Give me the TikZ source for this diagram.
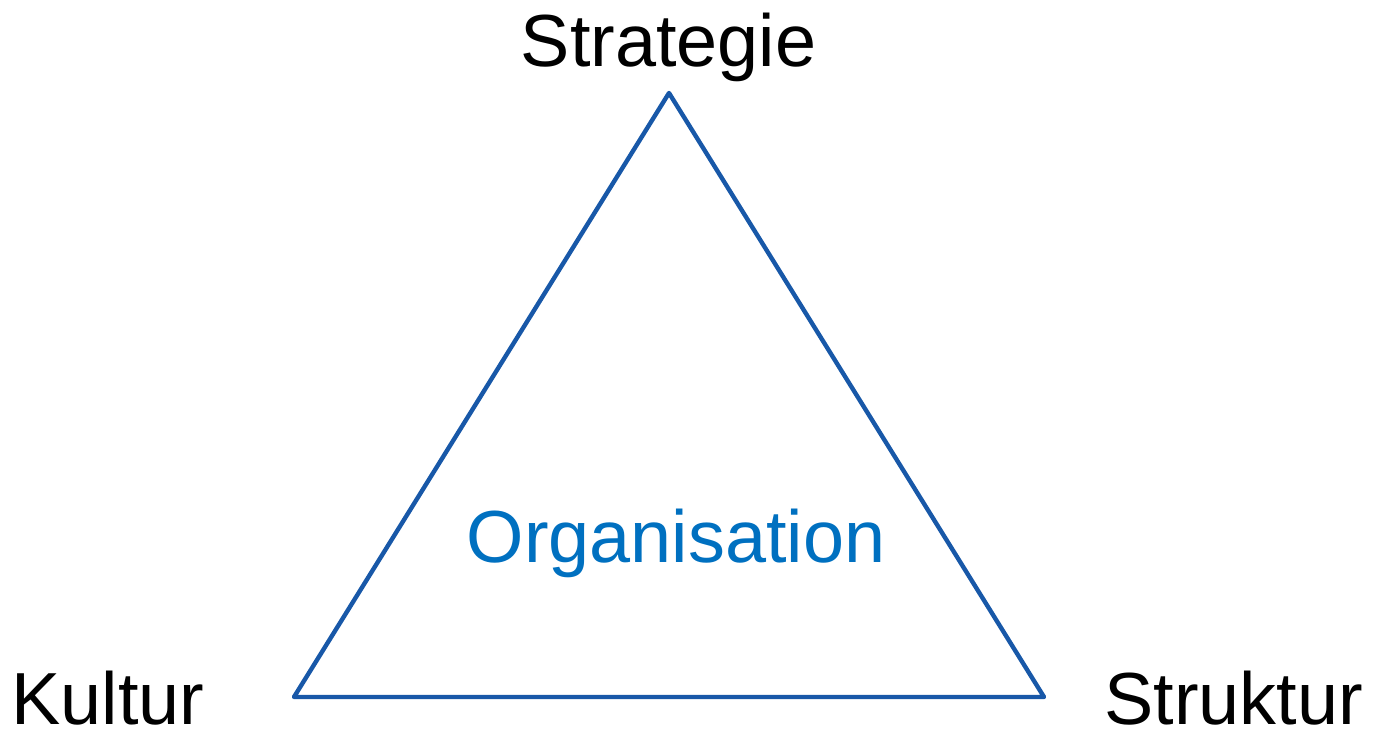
\documentclass[tikz,border=0pt]{standalone}
\usepackage{fontspec}
\setmainfont{Liberation Sans}
\definecolor{triblue}{RGB}{24,88,168}
\definecolor{orgblue}{RGB}{0,112,192}
\begin{document}
\begin{tikzpicture}[
  lbl/.style={inner sep=0pt, font=\fontsize{42}{48}\selectfont},
  tri/.style={draw=triblue, line width=2.5pt, line join=round}
]
\useasboundingbox (0,0) rectangle (27.5,14.62);
\coordinate (top) at (13.38,12.76);
\coordinate (bl) at (5.88,0.68);
\coordinate (br) at (20.88,0.68);
\draw[tri] (top) -- (bl) -- (br) -- cycle;
\node[lbl, anchor=base] (strat) at (13.37,13.28) {Strategie};
\node[lbl, anchor=base, text=orgblue] (org) at (13.52,3.36) {Organisation};
\node[lbl, anchor=base west] (kult) at (0.22,0.12) {Kultur};
\node[lbl, anchor=base east] (struk) at (27.26,0.12) {Struktur};
\end{tikzpicture}
\end{document}
